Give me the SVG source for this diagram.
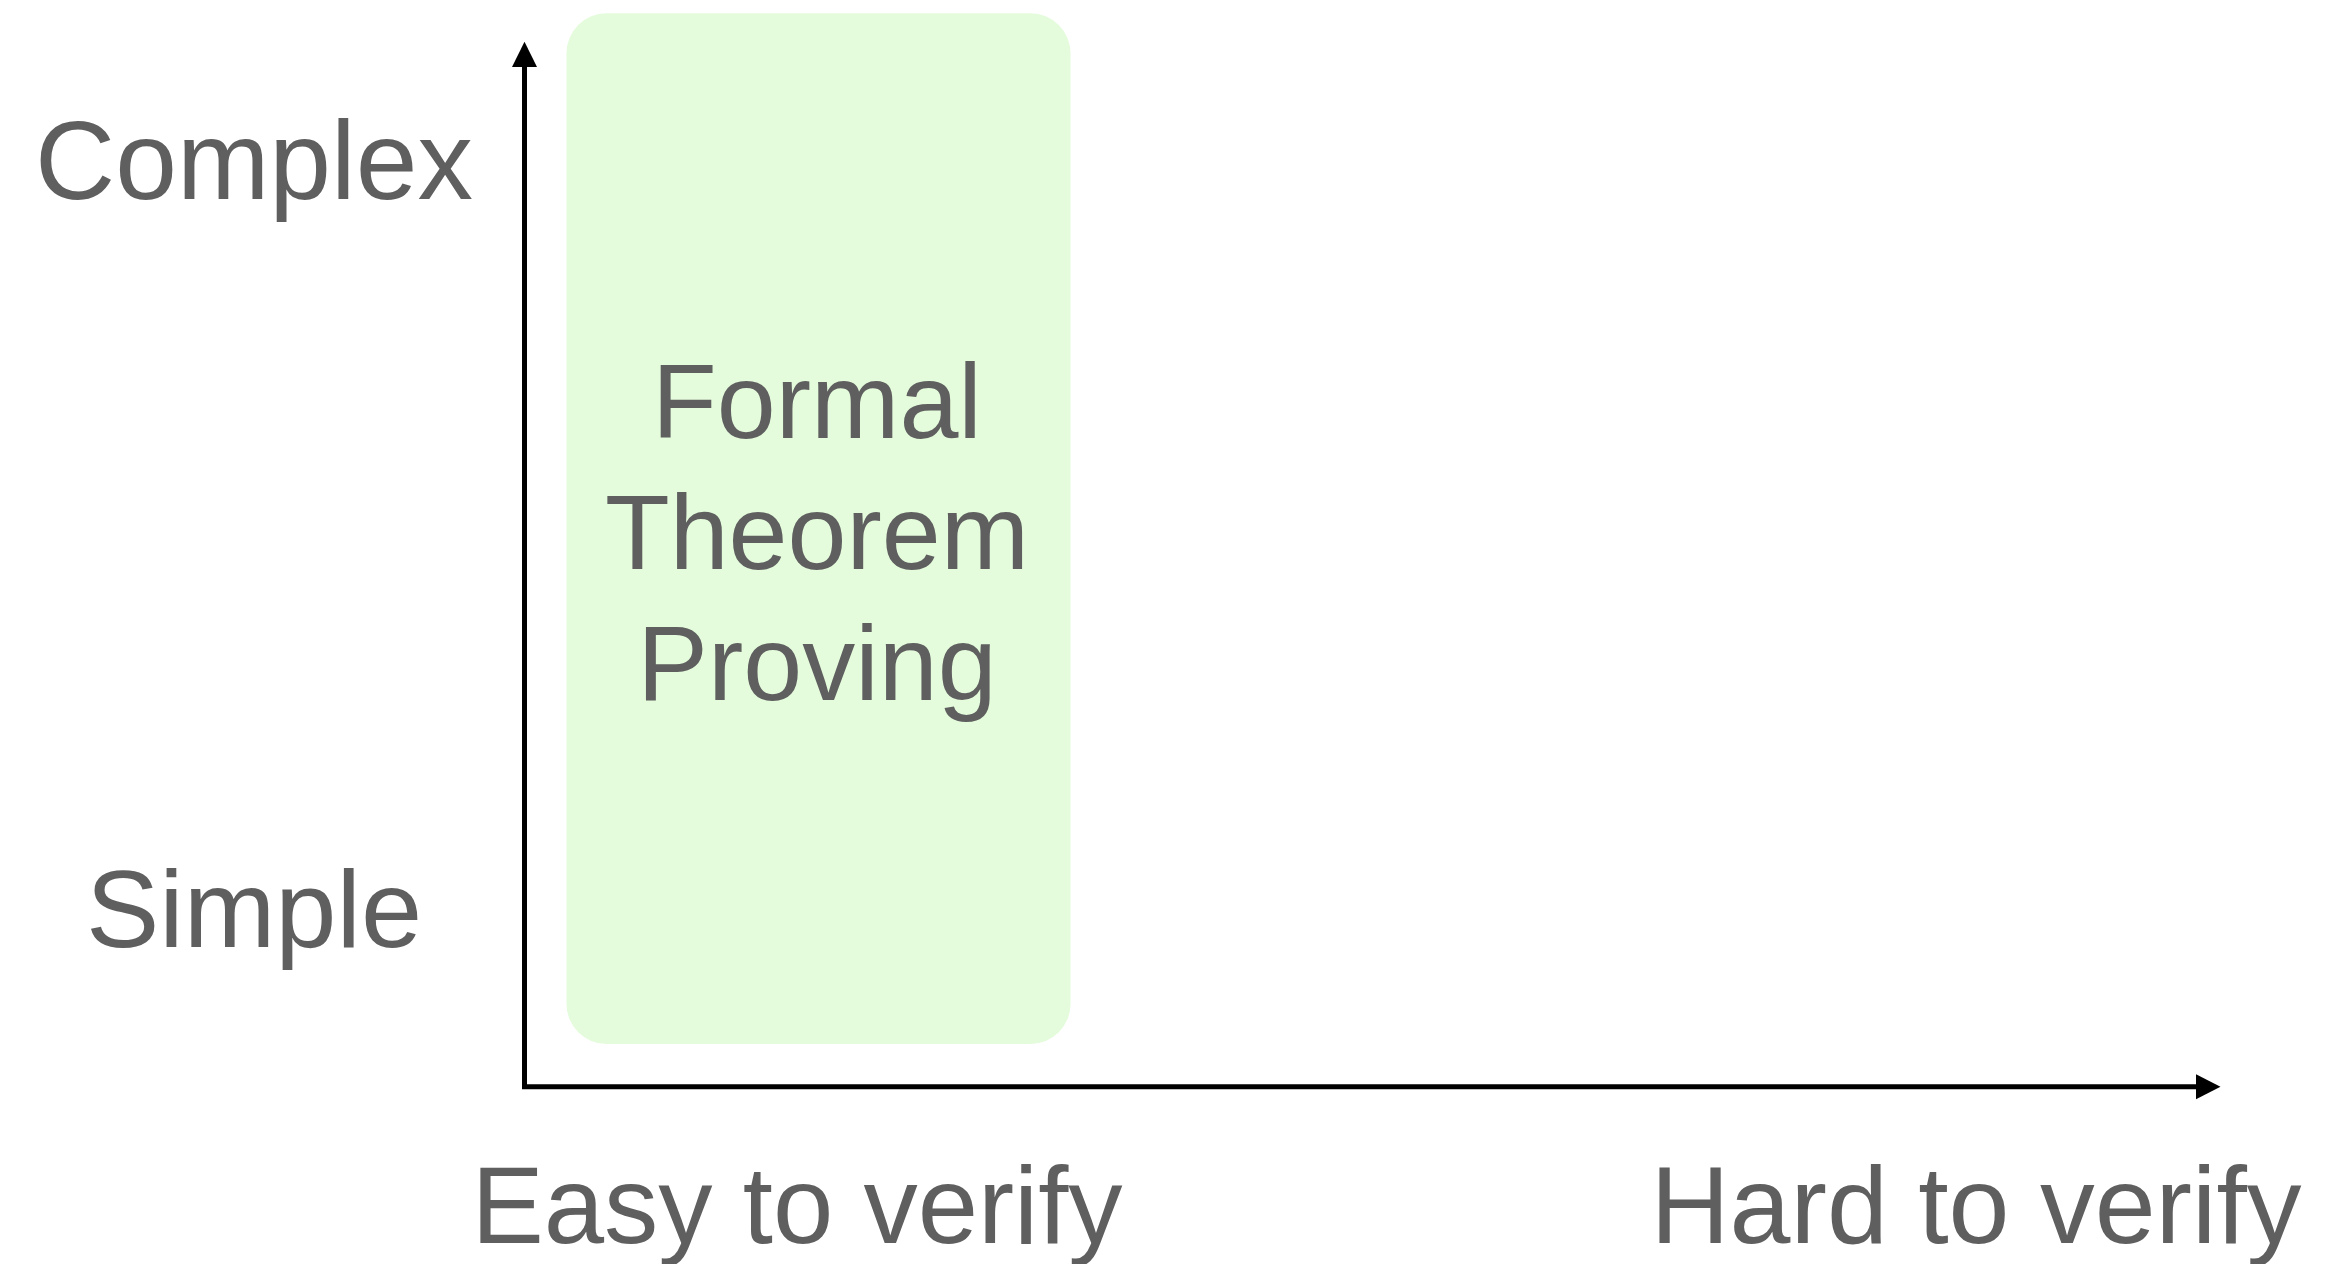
<svg xmlns="http://www.w3.org/2000/svg" width="2335" height="1264" viewBox="0 0 2335 1264">
  <style>
    .label { font-family: "Liberation Sans", Arial, Helvetica, sans-serif; fill: #5f5f5f; text-anchor: middle; }
    .axis { fill: none; stroke: #000; stroke-width: 5; stroke-linejoin: miter; stroke-linecap: butt; }
    .head { fill: #000; }
    .region { fill: #e4fcdc; }
  </style>
  <rect width="2335" height="1264" fill="#ffffff"/>

  <!-- highlighted region -->
  <g id="formal-theorem-proving">
    <rect class="region" x="566.5" y="13.3" width="504" height="1030.7" rx="40" ry="40"/>
    <text class="label" font-size="106" x="817" y="438">Formal</text>
    <text class="label" font-size="106" x="817" y="569">Theorem</text>
    <text class="label" font-size="106" x="817" y="700">Proving</text>
  </g>

  <!-- axes -->
  <g id="axes">
    <path class="axis" d="M524.5 66 V1086.8 H2197"/>
    <polygon class="head" points="524.5,41.7 512,67 537,67"/>
    <polygon class="head" points="2220.5,1086.8 2196,1074.3 2196,1099.3"/>
  </g>

  <!-- axis labels -->
  <g id="y-labels">
    <text class="label" font-size="111" x="254" y="199">Complex</text>
    <text class="label" font-size="110" x="254" y="947">Simple</text>
  </g>
  <g id="x-labels">
    <text class="label" font-size="108.5" x="797" y="1243">Easy to verify</text>
    <text class="label" font-size="109.5" x="1976" y="1243">Hard to verify</text>
  </g>
</svg>
